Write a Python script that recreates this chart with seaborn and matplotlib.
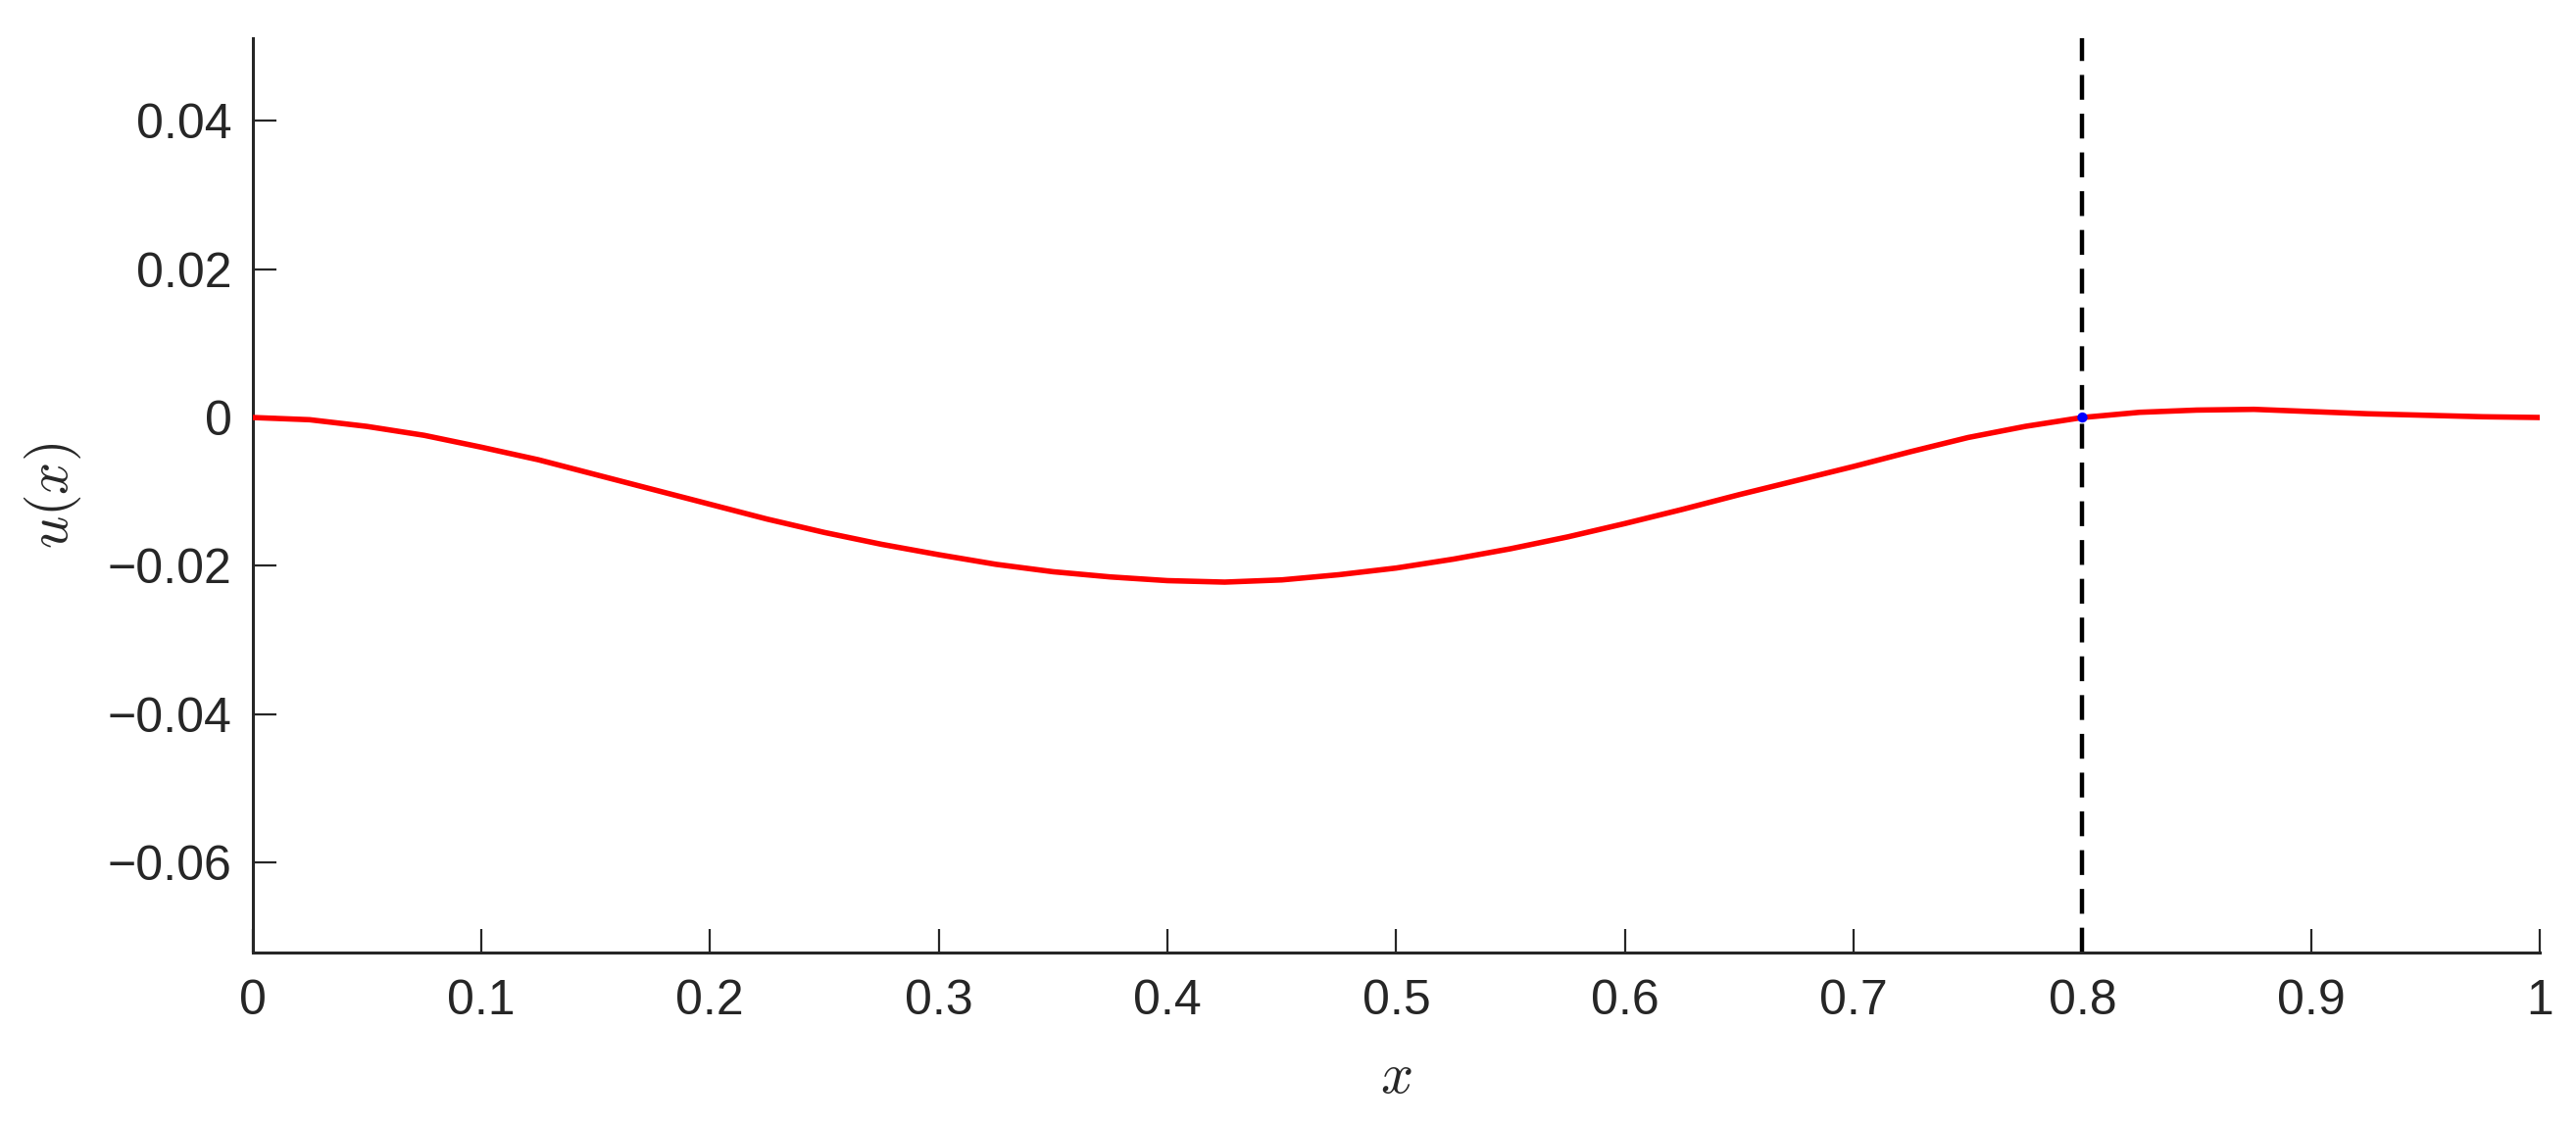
import numpy as np
import seaborn as sns
import matplotlib.pyplot as plt

# values
x_vals = [0.000, 0.025, 0.050, 0.075, 0.100, 0.125, 0.150, 0.175, 0.200, 0.225,
          0.250, 0.275, 0.300, 0.325, 0.350, 0.375, 0.400, 0.425, 0.450, 0.475,
          0.500, 0.525, 0.550, 0.575, 0.600, 0.625, 0.650, 0.675, 0.700, 0.725,
          0.750, 0.775, 0.800, 0.825, 0.850, 0.875, 0.900, 0.925, 0.950, 0.975,
          1.000]
u_vals = [0.0000, -0.0003, -0.0012, -0.0024, -0.0040, -0.0057, -0.0077, -0.0097, -0.0117, -0.0137,
          -0.0155, -0.0171, -0.0185, -0.0198, -0.0208, -0.0215, -0.0220, -0.0222, -0.0219, -0.0212,
          -0.0203, -0.0191, -0.0177, -0.0161, -0.0143, -0.0124, -0.0104, -0.0085, -0.0066, -0.0046,
          -0.0027, -0.0012, 0.0000, 0.0007, 0.0010, 0.0011, 0.0008, 0.0005, 0.0003, 0.0001,
          0.0000]
x_break = 0.8
u_break = 0.0

x_ticks = [0, 0.1, 0.2, 0.3, 0.4, 0.5, 0.6, 0.7, 0.8, 0.9, 1]
x_ticklabels = ['0', '0.1', '0.2', '0.3', '0.4', '0.5', '0.6', '0.7', '0.8', '0.9', '1']
y_ticks = [-0.06, -0.04, -0.02, 0, 0.02, 0.04]
y_ticklabels = ['\u22120.06', '\u22120.04', '\u22120.02', '0', '0.02', '0.04']

sns.set_style('ticks')
plt.rcParams['font.family'] = ['Liberation Sans', 'DejaVu Sans']
plt.rcParams['mathtext.fontset'] = 'cm'

axcol = '#262626'

fig = plt.figure(figsize=(13.14, 5.74), dpi=200)
ax = fig.add_axes([0.098, 0.153, 0.888, 0.8127])

sns.lineplot(x=x_vals, y=u_vals, color='#ff0000', linewidth=2.0, ax=ax, zorder=3)
ax.axvline(x_break, color='black', linewidth=1.6, dashes=(5.7, 3.2), zorder=2)
sns.scatterplot(x=[x_break], y=[u_break], color='#0000ff', s=14, edgecolor='none', ax=ax, zorder=4)

ax.set_xlim(0, 1)
ax.set_ylim(min(u_vals) - 0.05, max(u_vals) + 0.05)
ax.set_xticks(x_ticks)
ax.set_xticklabels(x_ticklabels)
ax.set_yticks(y_ticks)
ax.set_yticklabels(y_ticklabels)

sns.despine(ax=ax)
for s in ['left', 'bottom']:
    ax.spines[s].set_linewidth(1.1)
    ax.spines[s].set_color(axcol)
ax.tick_params(axis='both', direction='in', length=8.6, width=0.8, color=axcol,
               labelcolor=axcol, labelsize=18)
ax.tick_params(axis='x', pad=9.5)
ax.tick_params(axis='y', pad=7.5)

ax.set_xlabel('$x$', fontsize=21, color=axcol, labelpad=10)
ax.set_ylabel('$u(x)$', fontsize=21, color=axcol, labelpad=9)

plt.savefig('out.png', dpi=200, facecolor='w')
